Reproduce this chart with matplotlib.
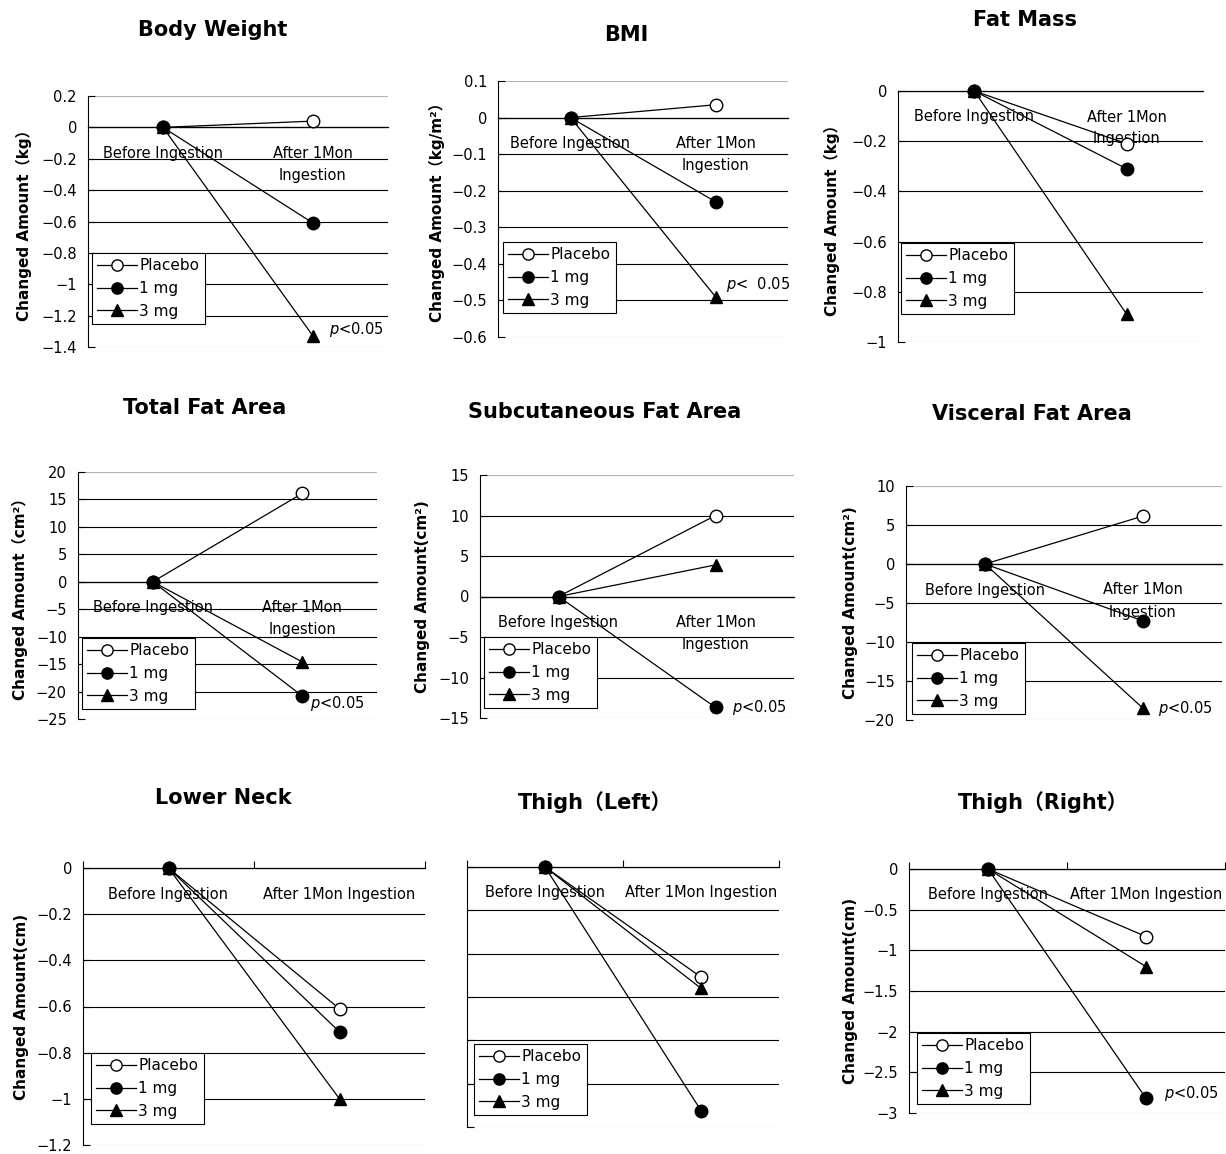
import numpy as np
import matplotlib as mpl
mpl.use('Agg')
import matplotlib.pyplot as plt
import matplotlib.ticker as mticker

plt.rcParams['font.family'] = ['DejaVu Sans', 'Noto Sans CJK JP']
plt.rcParams['axes.unicode_minus'] = True

# ---- data ----
titles = ["Body Weight", "BMI", "Fat Mass",
          "Total Fat Area", "Subcutaneous Fat Area", "Visceral Fat Area",
          "Lower Neck", "Thigh（Left）", "Thigh（Right）"]
ylabels = ["Changed Amount（kg）", "Changed Amount（kg/m²）", "Changed Amount（kg）",
           "Changed Amount（cm²）", "Changed Amount(cm²)", "Changed Amount(cm²)",
           "Changed Amount(cm)", "", "Changed Amount(cm)"]
categories = ["Before Ingestion", "After 1Mon Ingestion"]
series_names = ["Placebo", "1 mg", "3 mg"]

placebo_before = [0, 0, 0, 0, 0, 0, 0, 0, 0]
mg1_before = [0, 0, 0, 0, 0, 0, 0, 0, 0]
mg3_before = [0, 0, 0, 0, 0, 0, 0, 0, 0]
placebo_after = [0.04, 0.035, -0.21, 16.1, 10.0, 6.15, -0.61, -1.27, -0.83]
mg1_after = [-0.61, -0.23, -0.31, -20.8, -13.7, -7.3, -0.71, -2.81, -2.82]
mg3_after = [-1.33, -0.49, -0.89, -14.6, 3.9, -18.5, -1.0, -1.40, -1.2]

ymins = [-1.4, -0.6, -1.0, -25, -15, -20, -1.2, -3.0, -3.0]
ymaxs = [0.2, 0.1, 0.0, 20, 15, 10, 0.0, 0.0, 0.0]
ysteps = [0.2, 0.1, 0.2, 5, 5, 5, 0.2, 0.5, 0.5]

# which series carries the p label (None = no label)
p_series = [2, 2, None, 1, 1, 2, None, None, 1]
p_texts = ["$p$<0.05", "$p$<  0.05", "", "$p$<0.05", "$p$<0.05", "$p$<0.05", "", "", "$p$<0.05"]

# ---- layout (pixels) ----
W, H = 1226, 1154
ax_boxes = [(88, 96, 388, 347), (498, 81, 788, 337), (898, 91, 1203, 342),
            (78, 472, 377, 719), (480, 475, 794, 718), (906, 486, 1222, 720),
            (83, 868, 425, 1145), (467, 867, 779, 1127), (909, 869, 1225, 1113)]
title_pos = [(213, 30), (626, 35), (1025, 20),
             (205, 408), (605, 412), (1032, 414),
             (223, 798), (595, 802), (1043, 802)]
ylabel_x = [24, 437, 832, 20, 422, 850, 22, None, 850]
legend_pos = [(92, 253), (503, 242), (901, 243),
              (82, 638), (484, 637), (912, 643),
              (91, 1053), (474, 1044), (917, 1033)]
p_offsets = [(16, -7), (11, -12), None, (8, 8), (16, 0), (15, 0), None, None, (18, -5)]
bottom_row = [False] * 6 + [True] * 3

fig = plt.figure(figsize=(W / 100, H / 100), dpi=100)

def px2pt(v):
    return v * 72.0 / 100.0

styles = [dict(marker='o', mfc='white', mec='black'),
          dict(marker='o', mfc='black', mec='black'),
          dict(marker='^', mfc='black', mec='black')]
msizes = [9, 9, 9]
fs = 10.5

for i in range(9):
    l, t, r, b = ax_boxes[i]
    ax = fig.add_axes([l / W, 1 - b / H, (r - l) / W, (b - t) / H])

    befores = [placebo_before[i], mg1_before[i], mg3_before[i]]
    afters = [placebo_after[i], mg1_after[i], mg3_after[i]]
    xs = [0.5, 1.5]

    lines = {}
    for k in [0, 2, 1]:
        ln, = ax.plot(xs, [befores[k], afters[k]], color='black', lw=0.9,
                      markersize=msizes[k], clip_on=False, zorder=5 + k, **styles[k])
        lines[k] = ln

    ax.set_xlim(0, 2)
    ax.set_ylim(ymins[i], ymaxs[i])
    ticks = np.round(np.arange(ymins[i], ymaxs[i] + ysteps[i] / 2, ysteps[i]), 3)
    ax.set_yticks(ticks)
    ax.yaxis.set_major_formatter(mticker.FuncFormatter(
        lambda v, p: ("%g" % v).replace("-", "\u2212") if abs(v) > 1e-9 else "0"))
    ax.tick_params(axis='y', direction='in', length=5, width=0.8, pad=8, labelsize=10.5)
    if i == 7:
        ax.tick_params(axis='y', labelleft=False)

    for s in ['top', 'right']:
        ax.spines[s].set_visible(False)
    ax.spines['left'].set_linewidth(0.8)
    ax.spines['bottom'].set_position(('data', 0))
    ax.spines['bottom'].set_linewidth(0.9)
    if bottom_row[i]:
        ax.set_xticks([0, 1, 2])
        ax.tick_params(axis='x', direction='in', length=5, width=0.8, labelbottom=False)
    else:
        ax.set_xticks([])

    # horizontal grid
    for tv in ticks:
        col = 'black'
        if abs(tv - ymins[i]) < 1e-9 or abs(tv - ymaxs[i]) < 1e-9:
            col = '#b5b5b5' if abs(tv) > 1e-9 else 'black'
        ax.axhline(tv, color=col, lw=0.8, zorder=1)

    # category labels below zero line
    ax.annotate(categories[0], xy=(0.5, 0), xytext=(0, -px2pt(26)), textcoords='offset points',
                ha='center', va='center', fontsize=fs, zorder=3)
    if bottom_row[i]:
        ax.annotate(categories[1], xy=(1.5, 0), xytext=(0, -px2pt(26)), textcoords='offset points',
                    ha='center', va='center', fontsize=fs, zorder=3)
    else:
        first, second = categories[1].rsplit(" ", 1)
        ax.annotate(first, xy=(1.5, 0), xytext=(0, -px2pt(26)), textcoords='offset points',
                    ha='center', va='center', fontsize=fs, zorder=3)
        ax.annotate(second, xy=(1.5, 0), xytext=(0, -px2pt(48)), textcoords='offset points',
                    ha='center', va='center', fontsize=fs, zorder=3)

    # p label
    if p_series[i] is not None:
        dx, dy = p_offsets[i]
        ax.annotate(p_texts[i], xy=(1.5, afters[p_series[i]]), xytext=(px2pt(dx), -px2pt(dy)),
                    textcoords='offset points', ha='left', va='center', fontsize=10.5)

    # title
    tx, ty = title_pos[i]
    fig.text(tx / W, 1 - ty / H, titles[i], ha='center', va='center',
             fontsize=15, fontweight='bold')

    # y label
    if ylabel_x[i] is not None:
        if i == 1:
            fig.text(ylabel_x[i] / W, 1 - 322 / H, ylabels[i], rotation=90,
                     ha='center', va='bottom', fontsize=11, fontweight='bold')
        else:
            fig.text(ylabel_x[i] / W, 1 - (t + b) / 2 / H, ylabels[i], rotation=90,
                     ha='center', va='center', fontsize=11, fontweight='bold')

    # legend
    lx, ly = legend_pos[i]
    leg = ax.legend([lines[0], lines[1], lines[2]], series_names,
                    loc='upper left', bbox_to_anchor=(lx / W, 1 - ly / H),
                    bbox_transform=fig.transFigure, borderaxespad=0,
                    fontsize=11, handlelength=2.6, handletextpad=0.15,
                    labelspacing=0.5, borderpad=0.35, fancybox=False,
                    framealpha=1, edgecolor='black', markerscale=0.9)
    leg.get_frame().set_linewidth(0.8)
    leg.set_zorder(4)

fig.savefig("out.png", dpi=100, facecolor='white')
